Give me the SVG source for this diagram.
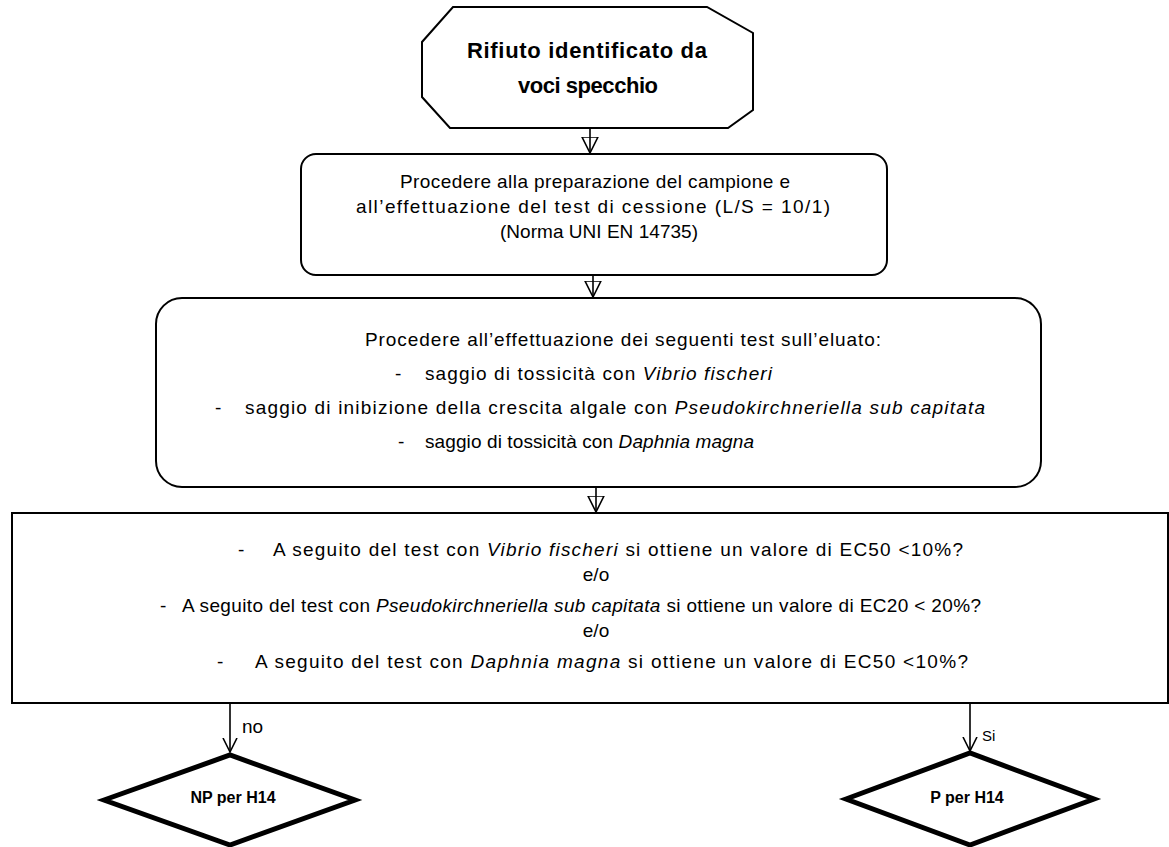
<svg xmlns="http://www.w3.org/2000/svg" width="1169" height="847" viewBox="0 0 1169 847">
<style>
text{font-family:"Liberation Sans",Arial,sans-serif;fill:#000}
.t{font-size:19px}
.b{font-weight:bold}
.i{font-style:italic}
.shape{fill:#fff;stroke:#000;stroke-width:2}
.dia{fill:#fff;stroke:#000;stroke-width:5;stroke-linejoin:miter}
.conn{stroke:#000;stroke-width:1.6;fill:none}
</style>
<defs>
<marker id="tri" markerUnits="userSpaceOnUse" markerWidth="20" markerHeight="18" refX="16" refY="8" orient="auto" viewBox="0 0 20 16">
<path d="M0,0 L16,8 L0,16 Z" fill="none" stroke="#000" stroke-width="1.6"/>
</marker>
<marker id="vee" markerUnits="userSpaceOnUse" markerWidth="16" markerHeight="18" refX="14" refY="8" orient="auto" viewBox="0 0 16 16">
<path d="M0,1 L14,8 L0,15" fill="none" stroke="#000" stroke-width="1.6"/>
</marker>
</defs>

<g id="connectors">
<line class="conn" x1="590" y1="128" x2="590" y2="153" marker-end="url(#tri)"/>
<line class="conn" x1="593" y1="275" x2="593" y2="297" marker-end="url(#tri)"/>
<line class="conn" x1="596" y1="487" x2="596" y2="512" marker-end="url(#tri)"/>
<line class="conn" x1="230" y1="703" x2="230" y2="752" marker-end="url(#vee)"/>
<line class="conn" x1="970" y1="703" x2="970" y2="751" marker-end="url(#vee)"/>
<text class="t" x="242" y="733">no</text>
<text x="982" y="741" style="font-size:15px">Si</text>
</g>

<g id="start">
<polygon class="shape" points="453,7 707,7 753,33 753,110 728,128 450,128 422,97 422,42"/>
<text class="b" x="467" y="58" style="font-size:22px" textLength="240">Rifiuto identificato da</text>
<text class="b" x="518" y="93" style="font-size:22px" textLength="140">voci specchio</text>
</g>

<g id="prep">
<rect class="shape" x="301" y="154" width="586" height="121" rx="15" ry="15"/>
<text class="t" x="400" y="188" textLength="390">Procedere alla preparazione del campione e</text>
<text class="t" x="356" y="213" textLength="474">all’effettuazione del test di cessione (L/S = 10/1)</text>
<text class="t" x="500" y="238" textLength="198">(Norma UNI EN 14735)</text>
</g>

<g id="tests">
<rect class="shape" x="156" y="298" width="885" height="189" rx="26" ry="26"/>
<text class="t" x="365" y="346" textLength="516">Procedere all’effettuazione dei seguenti test sull’eluato:</text>
<text class="t" x="395" y="380">-</text>
<text class="t" x="425" y="380" textLength="347">saggio di tossicità con <tspan class="i">Vibrio fischeri</tspan></text>
<text class="t" x="215" y="414">-</text>
<text class="t" x="245" y="414" textLength="740">saggio di inibizione della crescita algale con <tspan class="i">Pseudokirchneriella sub capitata</tspan></text>
<text class="t" x="398" y="448">-</text>
<text class="t" x="425" y="448" textLength="329">saggio di tossicità con <tspan class="i">Daphnia magna</tspan></text>
</g>

<g id="question">
<rect class="shape" x="12" y="513" width="1156" height="190"/>
<text class="t" x="238" y="556">-</text>
<text class="t" x="273" y="556" textLength="690">A seguito del test con <tspan class="i">Vibrio fischeri</tspan> si ottiene un valore di EC50 &lt;10%?</text>
<text class="t" x="596" y="581" text-anchor="middle">e/o</text>
<text class="t" x="160" y="612">-</text>
<text class="t" x="182" y="612" textLength="799">A seguito del test con <tspan class="i">Pseudokirchneriella sub capitata</tspan> si ottiene un valore di EC20 &lt; 20%?</text>
<text class="t" x="596" y="637" text-anchor="middle">e/o</text>
<text class="t" x="217" y="668">-</text>
<text class="t" x="255" y="668" textLength="713">A seguito del test con <tspan class="i">Daphnia magna</tspan> si ottiene un valore di EC50 &lt;10%?</text>
</g>

<g id="np">
<polygon class="dia" points="104,800 230,755 355,800 230,845"/>
<text class="b" x="233" y="803" text-anchor="middle" style="font-size:16px">NP per H14</text>
</g>

<g id="p">
<polygon class="dia" points="846,799 970,753 1094,799 970,845"/>
<text class="b" x="967" y="803" text-anchor="middle" style="font-size:16px">P per H14</text>
</g>
</svg>
